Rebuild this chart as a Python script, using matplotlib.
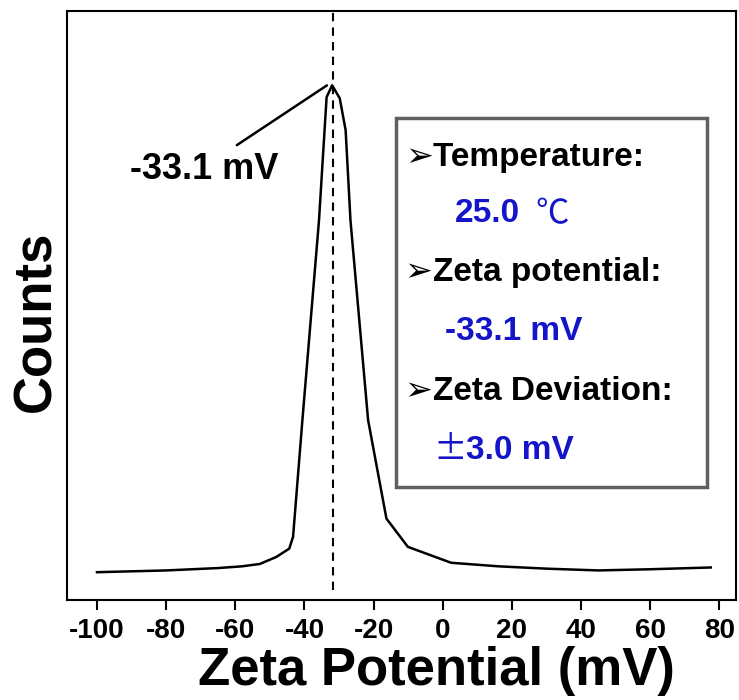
"""Zeta potential distribution"""

import matplotlib
matplotlib.use('Agg')
import matplotlib.pyplot as plt

# data (y in arbitrary counts)
zeta = [-100, -80, -65, -58, -52.9, -48.1, -44.4, -43.3, -40.6, -35.8, -33.6, -32.0,
        -29.8, -28.1, -26.7, -21.6, -16.3, -10.1, 2.4, 16, 30, 45, 60, 77.5]
counts = [0.047, 0.050, 0.054, 0.057, 0.061, 0.073, 0.087, 0.107, 0.305, 0.644, 0.853, 0.873,
          0.851, 0.797, 0.644, 0.305, 0.138, 0.090, 0.063, 0.057, 0.053, 0.050, 0.052, 0.055]
peak_x = -31.8
xticks = [-100, -80, -60, -40, -20, 0, 20, 40, 60, 80]

blue = '#1414c8'
fam = ['Liberation Sans', 'DejaVu Sans']
cjk = ['Noto Sans CJK SC', 'DejaVu Sans']
plt.rcParams['font.family'] = fam
plt.rcParams['font.weight'] = 'bold'

fig = plt.figure(figsize=(7.39, 7.0), dpi=100)
ax = fig.add_axes([0.091, 0.143, 0.905, 0.842])

ax.plot(zeta, counts, color='black', lw=1.8)
ax.plot([peak_x, peak_x], [0.017, 1.0], color='black', lw=1.5, ls=(0, (4, 3)))

ax.set_xlim(-108.6, 84.8)
ax.set_ylim(0, 1)
ax.set_yticks([])
ax.set_xticks(xticks)
ax.set_xticklabels([str(t) for t in xticks], fontsize=20, fontweight='bold')
ax.tick_params(axis='x', direction='out', length=7, width=1.5, pad=6)
for s in ax.spines.values():
    s.set_linewidth(1.5)

ax.set_xlabel('Zeta Potential (mV)', fontsize=38, fontweight='bold')
ax.xaxis.set_label_coords(0.552, -0.121)
ax.xaxis.label.set_va('center')
ax.set_ylabel('Counts', fontsize=38, fontweight='bold')
ax.yaxis.set_label_coords(-0.046, 0.472)
ax.yaxis.label.set_va('center')

# peak annotation
ax.annotate('-33.1 mV', xy=(-33.5, 0.873), xytext=(-69, 0.73),
            fontsize=26, fontweight='bold', ha='center', va='center',
            arrowprops=dict(arrowstyle='-', color='black', lw=1.8,
                            shrinkA=0, shrinkB=0, relpos=(0.72, 1.2)))

# info box
box = plt.Rectangle((0.491, 0.192), 0.465, 0.625, transform=ax.transAxes,
                    fill=False, edgecolor='#606060', lw=2.5)
ax.add_patch(box)

tx = 0.505
ax.text(tx, 0.750, '➢Temperature:', transform=ax.transAxes, fontsize=24,
        fontweight='bold', va='center', ha='left', family=fam)
ax.text(0.579, 0.655, '25.0', transform=ax.transAxes, fontsize=24, color=blue,
        fontweight='bold', va='center', ha='left')
ax.text(0.700, 0.655, '℃', transform=ax.transAxes, fontsize=24, color=blue,
        fontweight='normal', va='center', ha='left', family=cjk)
ax.text(tx, 0.555, '➢Zeta potential:', transform=ax.transAxes, fontsize=24,
        fontweight='bold', va='center', ha='left', family=fam)
ax.text(0.565, 0.456, '-33.1 mV', transform=ax.transAxes, fontsize=24, color=blue,
        fontweight='bold', va='center', ha='left')
ax.text(tx, 0.353, '➢Zeta Deviation:', transform=ax.transAxes, fontsize=24,
        fontweight='bold', va='center', ha='left', family=fam)
ax.text(0.548, 0.253, '±', transform=ax.transAxes, fontsize=24, color=blue,
        fontweight='normal', va='center', ha='left', family=cjk)
ax.text(0.596, 0.253, '3.0 mV', transform=ax.transAxes, fontsize=24, color=blue,
        fontweight='bold', va='center', ha='left')

fig.savefig('out.png', dpi=100)
